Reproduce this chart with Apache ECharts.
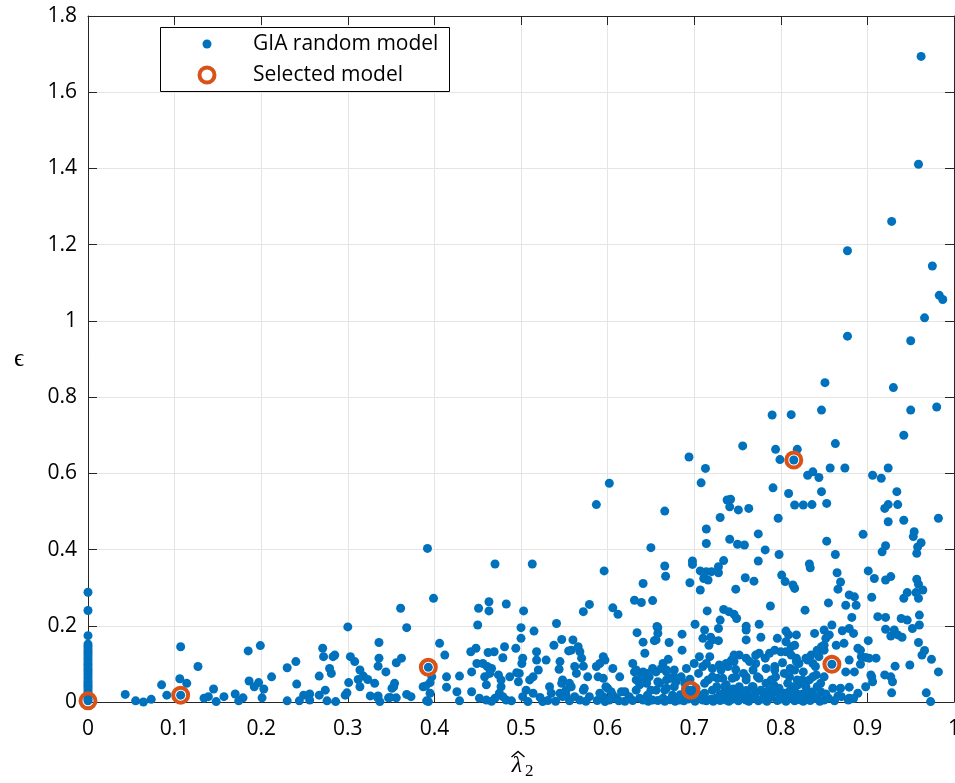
<!DOCTYPE html>
<html>
<head>
<meta charset="utf-8">
<script src="https://cdn.jsdelivr.net/npm/echarts@6/dist/echarts.min.js"></script>
<style>
  html, body { margin: 0; padding: 0; background: #ffffff; }
  #chart { width: 955px; height: 783px; }
</style>
</head>
<body>
<div id="chart"></div>
<script>
// Axis ticks
const xTicks = [0, 0.1, 0.2, 0.3, 0.4, 0.5, 0.6, 0.7, 0.8, 0.9, 1];
const yTicks = [0, 0.2, 0.4, 0.6, 0.8, 1, 1.2, 1.4, 1.6, 1.8];

// Legend labels
const seriesNames = ['GIA random model', 'Selected model'];

// GIA random models: [lambda2_hat, epsilon]
const giaZeroColumn = [
  [0,0.288],[0,0.240],[0,0.174],[0,0.152],[0,0.146],[0,0.139],[0,0.133],[0,0.127],
  [0,0.121],[0,0.114],[0,0.108],[0,0.101],[0,0.096],[0,0.089],[0,0.083],[0,0.077],
  [0,0.071],[0,0.064],[0,0.058],[0,0.052],[0,0.046],[0,0.041],[0,0.035],[0,0.029],
  [0,0.023],[0,0.017],[0,0.012],[0,0.007],[0,0.003]
];

const giaLow = [
  [0.043,0.020],[0.055,0.003],[0.064,0.000],[0.073,0.007],[0.085,0.045],[0.091,0.018],
  [0.107,0.145],[0.106,0.061],[0.114,0.049],[0.127,0.093],[0.134,0.010],[0.139,0.014],
  [0.145,0.034],[0.148,0.001],[0.157,0.014],[0.170,0.021],[0.174,0.003],[0.179,0.011],
  [0.185,0.134],[0.199,0.148],[0.186,0.055],[0.192,0.040],[0.197,0.051],[0.203,0.034],
  [0.201,0.011],[0.212,0.066],[0.230,0.090],[0.240,0.106],[0.241,0.047],[0.230,0.003],
  [0.244,0.003],[0.249,0.018],[0.256,0.021],[0.256,0.005],[0.267,0.068],[0.271,0.141],
  [0.272,0.119],[0.283,0.119],[0.285,0.123],[0.279,0.088],[0.281,0.075],[0.274,0.031],
  [0.267,0.018],[0.276,0.003],[0.286,0.001],[0.297,0.018],[0.299,0.024],[0.301,0.051],
  [0.300,0.197],[0.303,0.119],[0.308,0.106],[0.314,0.084],[0.312,0.059],[0.318,0.068],
  [0.323,0.059],[0.314,0.040],[0.326,0.016],[0.331,0.049],[0.335,0.094],[0.336,0.115],
  [0.336,0.156],[0.335,0.016],[0.107,0.018]
];

const giaMid = [
  [0.337,0.001],[0.347,0.011],[0.356,0.011],[0.356,0.103],[0.362,0.115],[0.354,0.049],
  [0.353,0.040],[0.344,0.079],[0.368,0.020],[0.373,0.014],[0.387,0.040],[0.391,0.003],
  [0.395,0.051],[0.395,0.023],[0.397,0.066],[0.406,0.154],[0.412,0.123],[0.414,0.066],
  [0.414,0.039],[0.429,0.068],[0.426,0.027],[0.429,0.003],[0.442,0.132],[0.443,0.079],
  [0.443,0.027],[0.449,0.101],[0.361,0.246],[0.368,0.195],[0.351,0.036],[0.334,0.013],
  [0.349,0.012],[0.399,0.272],[0.390,0.042],[0.393,0.001],[0.393,0.091],[0.392,0.403],
  [0.448,0.141],[0.451,0.246],[0.463,0.263],[0.463,0.239],[0.450,0.202],[0.462,0.130],
  [0.469,0.132],[0.483,0.257],[0.481,0.145],[0.479,0.116],[0.456,0.101],[0.461,0.093],
  [0.466,0.088],[0.458,0.066],[0.464,0.075],[0.474,0.071],[0.477,0.058],[0.487,0.066],
  [0.495,0.077],[0.460,0.045],[0.477,0.040],[0.475,0.023],[0.479,0.014],[0.452,0.010],
  [0.460,0.005],[0.470,0.010],[0.483,0.005],[0.494,0.141],[0.500,0.195],[0.500,0.167],
  [0.503,0.239],[0.515,0.186],[0.502,0.115],[0.501,0.101],[0.498,0.075],[0.497,0.053],
  [0.506,0.031],[0.502,0.014],[0.510,0.058],[0.514,0.066],[0.518,0.132],[0.520,0.084],
  [0.518,0.110],[0.529,0.110],[0.514,0.023],[0.522,0.012],[0.533,0.040],[0.535,0.023],
  [0.541,0.206],[0.538,0.149],[0.547,0.164],[0.555,0.134],[0.545,0.106],[0.544,0.086],
  [0.547,0.049],[0.545,0.023],[0.525,0.001],[0.552,0.031],[0.548,0.014],[0.470,0.362],
  [0.513,0.362]
];

const giaUpperMid = [
  [0.587,0.518],[0.602,0.574],[0.666,0.501],[0.596,0.344],[0.650,0.405],[0.666,0.357],
  [0.667,0.330],[0.641,0.311],[0.631,0.267],[0.639,0.261],[0.652,0.266],[0.579,0.256],
  [0.572,0.237],[0.606,0.247],[0.612,0.230],[0.634,0.182],[0.641,0.157],[0.643,0.128],
  [0.657,0.198],[0.658,0.180],[0.656,0.163],[0.560,0.163],[0.558,0.136],[0.566,0.145],
  [0.568,0.132],[0.570,0.115],[0.572,0.094],[0.562,0.093],[0.564,0.075],[0.556,0.049],
  [0.577,0.066],[0.589,0.066],[0.595,0.119],[0.591,0.101],[0.587,0.093],[0.606,0.088],
  [0.614,0.066],[0.598,0.040],[0.604,0.027],[0.572,0.031],[0.579,0.014],[0.595,0.014],
  [0.610,0.010],[0.620,0.027],[0.629,0.101],[0.633,0.084],[0.633,0.058],[0.641,0.079],
  [0.645,0.058],[0.652,0.088],[0.656,0.031],[0.633,0.031],[0.637,0.010],[0.652,0.005],
  [0.664,0.101],[0.668,0.084],[0.668,0.058],[0.597,0.110],[0.662,0.088],[0.656,0.079],
  [0.631,0.079],[0.639,0.066],[0.648,0.066],[0.595,0.062],[0.637,0.045],[0.658,0.053],
  [0.668,0.036],[0.677,0.066],[0.679,0.053],[0.548,0.058],[0.558,0.040],[0.552,0.018],
  [0.562,0.014],[0.573,0.036],[0.591,0.023],[0.600,0.036],[0.606,0.018],[0.616,0.027],
  [0.625,0.014],[0.646,0.018],[0.664,0.010],[0.675,0.018],[0.683,0.005],[0.568,0.005],
  [0.602,0.005],[0.641,0.005]
];

const giaHigh = [
  [0.790,0.753],[0.812,0.754],[0.847,0.766],[0.950,0.766],[0.980,0.774],[0.942,0.700],
  [0.756,0.672],[0.794,0.663],[0.819,0.663],[0.799,0.636],[0.863,0.678],[0.694,0.643],
  [0.713,0.613],[0.708,0.575],[0.831,0.595],[0.837,0.604],[0.844,0.589],[0.857,0.614],
  [0.874,0.614],[0.906,0.595],[0.916,0.587],[0.924,0.614],[0.791,0.562],[0.809,0.547],
  [0.847,0.552],[0.853,0.521],[0.816,0.517],[0.826,0.517],[0.836,0.518],[0.738,0.530],
  [0.742,0.532],[0.741,0.512],[0.751,0.504],[0.763,0.508],[0.730,0.484],[0.797,0.482],
  [0.934,0.552],[0.920,0.508],[0.924,0.518],[0.935,0.518],[0.924,0.473],[0.942,0.477],
  [0.982,0.482],[0.895,0.440],[0.714,0.454],[0.714,0.416],[0.774,0.441],[0.741,0.427],
  [0.750,0.414],[0.758,0.412],[0.782,0.399],[0.798,0.387],[0.853,0.422],[0.863,0.387],
  [0.954,0.447],[0.953,0.434],[0.962,0.418],[0.958,0.407],[0.957,0.390],[0.921,0.410],
  [0.917,0.394],[0.815,0.635],
  [0.962,1.694],[0.959,1.411],[0.928,1.261],[0.877,1.184],[0.975,1.144],[0.983,1.067],
  [0.987,1.056],[0.966,1.008],[0.877,0.960],[0.950,0.948],[0.851,0.838],[0.930,0.825]
];

const giaRight = [
  [0.698,0.370],[0.698,0.361],[0.695,0.313],[0.707,0.344],[0.714,0.342],[0.720,0.342],
  [0.728,0.339],[0.728,0.355],[0.734,0.371],[0.711,0.324],[0.716,0.320],[0.707,0.294],
  [0.748,0.296],[0.759,0.326],[0.769,0.317],[0.774,0.370],[0.801,0.333],[0.805,0.316],
  [0.814,0.307],[0.816,0.298],[0.833,0.362],[0.834,0.352],[0.865,0.339],[0.869,0.315],
  [0.866,0.296],[0.901,0.344],[0.908,0.324],[0.921,0.320],[0.927,0.329],[0.957,0.322],
  [0.959,0.309],[0.964,0.294],[0.956,0.287],[0.946,0.287],[0.942,0.272],[0.959,0.272],
  [0.905,0.275],[0.879,0.281],[0.885,0.276],[0.887,0.254],[0.875,0.254],[0.855,0.260],
  [0.882,0.222],[0.828,0.241],[0.788,0.252],[0.734,0.243],[0.740,0.237],[0.746,0.230],
  [0.749,0.219],[0.730,0.215],[0.715,0.239],[0.701,0.204],[0.728,0.193],[0.760,0.199],
  [0.760,0.189],[0.775,0.204],[0.712,0.189],[0.710,0.167],[0.719,0.170],[0.728,0.161],
  [0.717,0.149],[0.686,0.178],[0.686,0.136],[0.658,0.195],[0.654,0.161],[0.671,0.156],
  [0.670,0.112],[0.760,0.163],[0.777,0.170],[0.796,0.167],[0.806,0.186],[0.809,0.176],
  [0.818,0.176],[0.816,0.149],[0.839,0.180],[0.850,0.189],[0.859,0.202],[0.856,0.176],
  [0.871,0.187],[0.879,0.193],[0.884,0.180],[0.864,0.149],[0.847,0.145],[0.901,0.161],
  [0.912,0.224],[0.921,0.222],[0.939,0.219],[0.946,0.215],[0.960,0.228],[0.960,0.202],
  [0.952,0.193],[0.921,0.191],[0.931,0.189],[0.940,0.170],[0.927,0.173],[0.959,0.156],
  [0.966,0.135],[0.963,0.123],[0.974,0.112],[0.982,0.079],[0.949,0.097],[0.932,0.094],
  [0.920,0.071],[0.929,0.053],[0.928,0.024],[0.968,0.024],[0.973,0.001],[0.889,0.141],
  [0.893,0.119],[0.898,0.117],[0.910,0.115],[0.892,0.099],[0.879,0.110],[0.875,0.079],
  [0.905,0.066],[0.906,0.053],[0.898,0.040],[0.889,0.023],[0.879,0.039],[0.870,0.014],
  [0.878,0.005],[0.860,0.036],[0.850,0.136],[0.844,0.119],[0.840,0.093],[0.852,0.167],
  [0.935,0.176],[0.927,0.066],[0.859,0.099]
];

const giaDense = [
  [0.793,0.136],[0.787,0.128],[0.806,0.132],[0.812,0.123],[0.818,0.115],[0.829,0.115],
  [0.835,0.123],[0.837,0.101],[0.821,0.101],[0.802,0.103],[0.793,0.093],[0.782,0.115],
  [0.771,0.123],[0.771,0.101],[0.760,0.115],[0.746,0.123],[0.743,0.110],[0.739,0.093],
  [0.731,0.084],[0.721,0.088],[0.714,0.101],[0.706,0.119],[0.700,0.101],[0.691,0.088],
  [0.677,0.084],[0.668,0.079],[0.646,0.075],[0.645,0.049],[0.660,0.049],[0.673,0.062],
  [0.685,0.066],[0.721,0.066],[0.733,0.062],[0.748,0.066],[0.760,0.058],[0.775,0.062],
  [0.783,0.049],[0.794,0.066],[0.810,0.066],[0.825,0.058],[0.837,0.066],[0.846,0.049],
  [0.829,0.040],[0.814,0.040],[0.798,0.036],[0.767,0.040],[0.752,0.040],[0.737,0.045],
  [0.726,0.040],[0.712,0.049],[0.677,0.040],[0.666,0.031],[0.650,0.031],[0.721,0.163],
  [0.718,0.119],[0.710,0.093],[0.729,0.097],[0.737,0.101],[0.746,0.106],[0.752,0.123],
  [0.764,0.106],[0.768,0.084],[0.760,0.066],[0.744,0.062],[0.727,0.062],[0.716,0.058],
  [0.735,0.040],[0.721,0.031],[0.712,0.023],[0.743,0.023],[0.754,0.031],[0.768,0.040],
  [0.771,0.023],[0.710,0.005],[0.725,0.010],[0.737,0.005],[0.748,0.014],[0.760,0.005],
  [0.770,0.010],[0.696,0.031],[0.806,0.158],[0.812,0.145],[0.775,0.128],[0.800,0.132],
  [0.818,0.106],[0.831,0.110],[0.842,0.136],[0.850,0.149],[0.873,0.154],[0.892,0.136],
  [0.902,0.115],[0.885,0.079],[0.904,0.071],[0.869,0.036],[0.879,0.010],[0.846,0.027],
  [0.850,0.066],[0.841,0.071],[0.833,0.058],[0.819,0.058],[0.816,0.084],[0.804,0.075],
  [0.793,0.084],[0.783,0.088],[0.773,0.066],[0.789,0.058],[0.808,0.049],[0.777,0.031],
  [0.793,0.027],[0.804,0.023],[0.818,0.023],[0.831,0.018],[0.842,0.014],[0.855,0.010]
];

const giaFloor = [
  [0.466,0.002],[0.489,0.003],[0.508,0.001],[0.531,0.004],[0.540,0.002],[0.556,0.003],
  [0.575,0.002],[0.588,0.004],[0.597,0.001],[0.613,0.003],[0.620,0.002],[0.629,0.004],
  [0.647,0.002],[0.658,0.004],[0.666,0.002],[0.672,0.006],[0.678,0.002],[0.688,0.003],
  [0.693,0.008],[0.701,0.002],[0.705,0.011],[0.714,0.003],[0.719,0.007],[0.722,0.002],
  [0.730,0.004],[0.733,0.012],[0.740,0.002],[0.744,0.007],[0.751,0.003],[0.756,0.009],
  [0.763,0.002],[0.766,0.013],[0.774,0.003],[0.779,0.008],[0.784,0.002],[0.789,0.012],
  [0.796,0.004],[0.800,0.008],[0.806,0.002],[0.811,0.010],[0.816,0.003],[0.822,0.006],
  [0.826,0.002],[0.834,0.004],[0.839,0.009],[0.845,0.002],[0.850,0.005],[0.862,0.003],
  [0.866,0.016],[0.884,0.009],[0.684,0.019],[0.692,0.016],[0.699,0.021],[0.707,0.018],
  [0.730,0.021],[0.738,0.026],[0.752,0.019],[0.762,0.022],[0.768,0.016],[0.781,0.018],
  [0.786,0.030],[0.799,0.020],[0.810,0.028],[0.813,0.016],[0.825,0.021],[0.836,0.026],
  [0.852,0.021],[0.690,0.034],[0.702,0.036],[0.745,0.034],[0.760,0.030],[0.792,0.045],
  [0.820,0.045],[0.842,0.040],[0.689,0.050],[0.695,0.060],[0.705,0.075],[0.757,0.075],
  [0.748,0.085],[0.826,0.079],[0.811,0.088]
];

// Selected models: [lambda2_hat, epsilon]
const selectedModel = [
  [0,0.003],[0.107,0.018],[0.393,0.091],[0.696,0.031],[0.815,0.635],[0.859,0.099]
];

const giaRandomModel = [].concat(giaZeroColumn, giaLow, giaMid, giaUpperMid, giaHigh, giaRight, giaDense, giaFloor);

const BLUE = '#0072BD';
const ORANGE = '#D95319';
const AXIS = '#262626';
const GRIDLINE = '#e5e5e5';
const FONT = '"Open Sans", "Noto Sans", sans-serif';
const SERIF = '"Liberation Serif", "DejaVu Serif", serif';

const chart = echarts.init(document.getElementById('chart'), null, { renderer: 'canvas' });

const xMin = xTicks[0], xMax = xTicks[xTicks.length - 1], xStep = xTicks[1] - xTicks[0];
const yMin = yTicks[0], yMax = yTicks[yTicks.length - 1], yStep = yTicks[1] - yTicks[0];

const tickLine = { show: true, inside: true, length: 9, lineStyle: { color: AXIS, width: 1 } };

// Plot box in pixels
const GRID = { left: 88, right: 1, top: 16, bottom: 81 };
const plotCenterX = (GRID.left + (955 - GRID.right)) / 2;

chart.setOption({
  animation: false,
  backgroundColor: '#ffffff',
  grid: {
    left: GRID.left, right: GRID.right, top: GRID.top, bottom: GRID.bottom,
    containLabel: false,
    outerBoundsMode: 'none'
  },
  xAxis: [
    {
      type: 'value', min: xMin, max: xMax, interval: xStep,
      position: 'bottom',
      axisLine: { show: true, onZero: false, lineStyle: { color: AXIS, width: 1 } },
      axisTick: tickLine,
      splitLine: { show: true, lineStyle: { color: GRIDLINE, width: 1 } },
      axisLabel: { color: '#000', fontFamily: FONT, fontSize: 21, margin: 17, hideOverlap: false }
    },
    {
      type: 'value', min: xMin, max: xMax, interval: xStep,
      position: 'top',
      axisLine: { show: true, onZero: false, lineStyle: { color: AXIS, width: 1 } },
      axisTick: tickLine,
      splitLine: { show: false },
      axisLabel: { show: false }
    }
  ],
  yAxis: [
    {
      type: 'value', min: yMin, max: yMax, interval: yStep,
      position: 'left',
      axisLine: { show: true, onZero: false, lineStyle: { color: AXIS, width: 1 } },
      axisTick: tickLine,
      splitLine: { show: true, lineStyle: { color: GRIDLINE, width: 1 } },
      axisLabel: { color: '#000', fontFamily: FONT, fontSize: 21, margin: 11 },
      name: 'ϵ',
      nameLocation: 'middle',
      nameGap: 64,
      nameRotate: 0,
      nameTextStyle: { fontFamily: SERIF, fontSize: 25, color: '#000' }
    },
    {
      type: 'value', min: yMin, max: yMax, interval: yStep,
      position: 'right',
      axisLine: { show: true, onZero: false, lineStyle: { color: AXIS, width: 1 } },
      axisTick: tickLine,
      splitLine: { show: false },
      axisLabel: { show: false }
    }
  ],
  series: [
    {
      name: seriesNames[0],
      type: 'scatter',
      xAxisIndex: 0, yAxisIndex: 0,
      data: giaRandomModel,
      symbol: 'circle',
      symbolSize: 9,
      clip: false,
      itemStyle: { color: BLUE, opacity: 1 },
      z: 2
    },
    {
      name: seriesNames[1],
      type: 'scatter',
      xAxisIndex: 0, yAxisIndex: 0,
      data: selectedModel,
      symbol: 'circle',
      symbolSize: 15,
      clip: false,
      itemStyle: { color: 'rgba(0,0,0,0)', borderColor: ORANGE, borderWidth: 4, opacity: 1 },
      z: 3
    }
  ],
  graphic: [
    // Legend box, drawn above the grid lines
    {
      type: 'group',
      left: 160, top: 27,
      z: 100,
      children: [
        { type: 'rect', z: 100, shape: { x: 0.5, y: 0.5, width: 289, height: 64 }, style: { fill: '#ffffff', stroke: '#000000', lineWidth: 1 } },
        { type: 'circle', z: 101, shape: { cx: 47, cy: 17, r: 4.5 }, style: { fill: BLUE } },
        { type: 'circle', z: 101, shape: { cx: 47, cy: 48, r: 7.5 }, style: { fill: 'none', stroke: ORANGE, lineWidth: 4 } },
        { type: 'text', z: 101, x: 93, y: 17, style: { text: seriesNames[0], fill: '#000', font: '21px ' + FONT, verticalAlign: 'middle' } },
        { type: 'text', z: 101, x: 93, y: 48, style: { text: seriesNames[1], fill: '#000', font: '21px ' + FONT, verticalAlign: 'middle' } }
      ]
    },
    // x-axis title: hat-lambda with subscript 2
    {
      type: 'group',
      x: plotCenterX, y: 0,
      children: [
        { type: 'text', x: -4, y: 766, style: { text: 'λ', fill: '#000', font: 'italic 24px ' + SERIF, align: 'center', verticalAlign: 'middle' } },
        { type: 'polyline', shape: { points: [[-9.5, 757], [-3, 751.5], [3.5, 757]] }, style: { stroke: '#000', lineWidth: 1.4, fill: 'none' } },
        { type: 'text', x: 4, y: 772, style: { text: '2', fill: '#000', font: '17px ' + SERIF, align: 'left', verticalAlign: 'middle' } }
      ]
    }
  ]
});
</script>
</body>
</html>
